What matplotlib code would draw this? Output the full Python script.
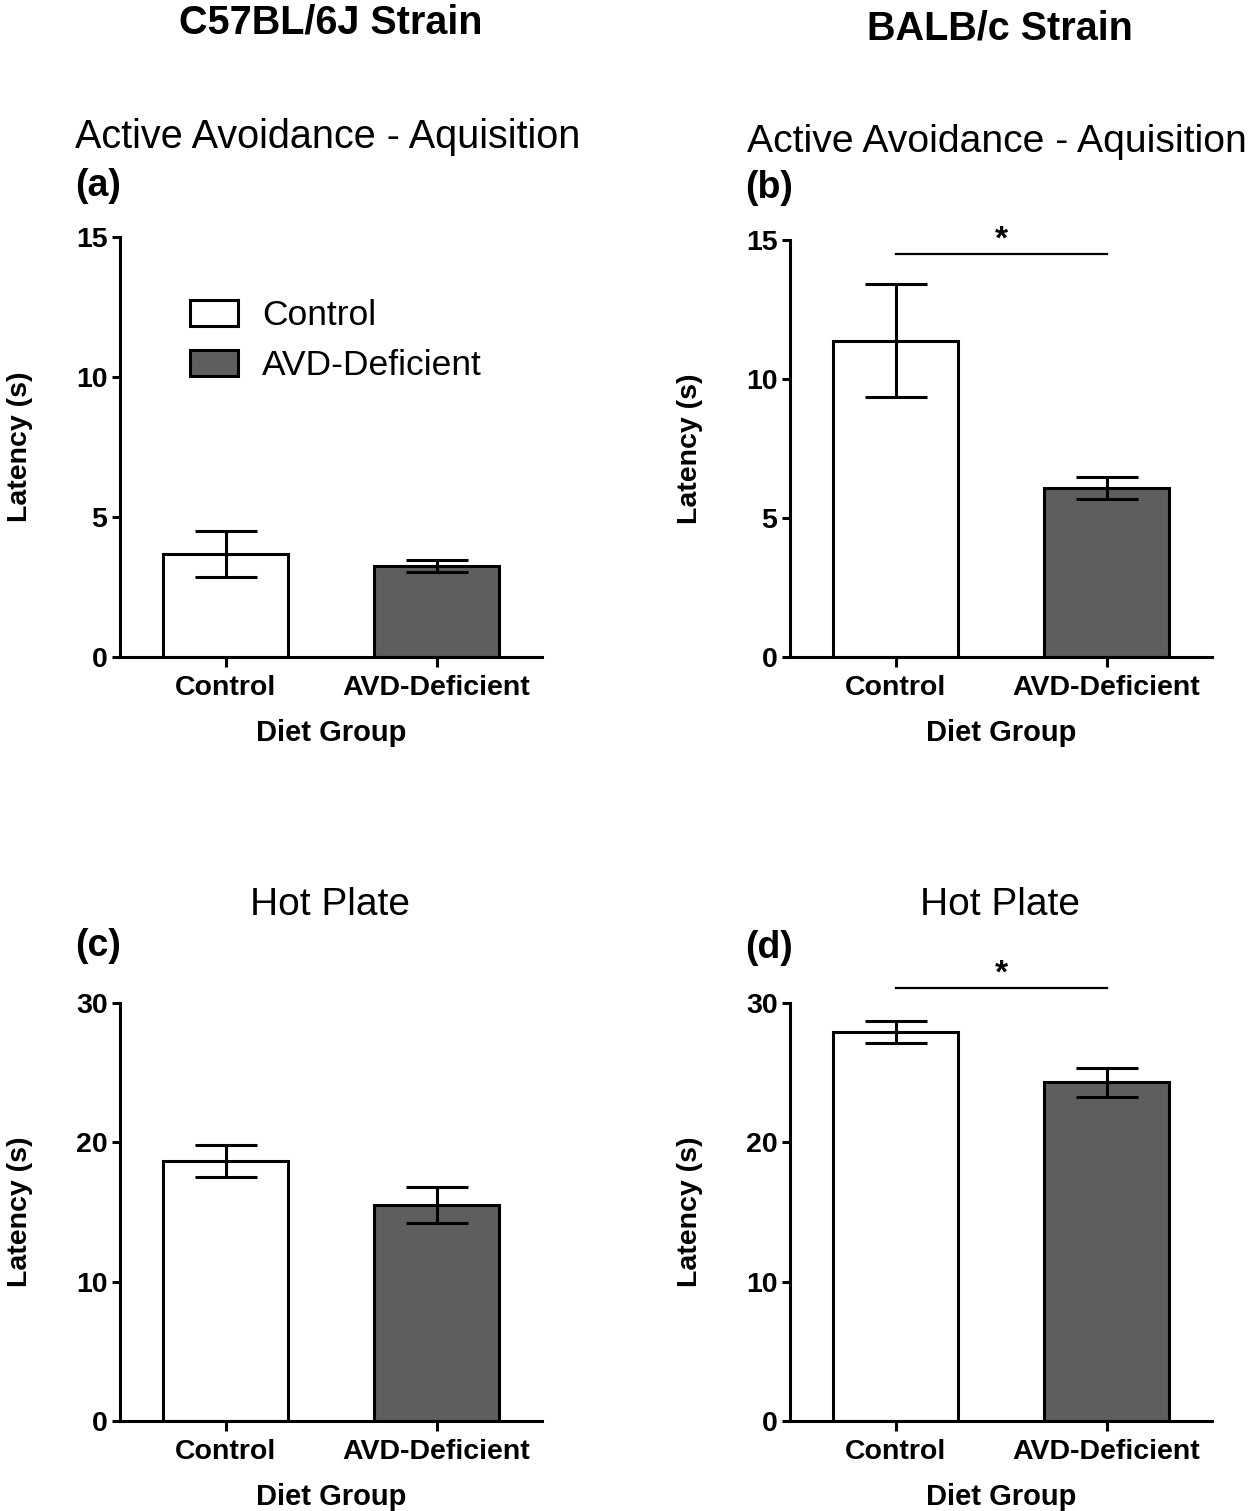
import matplotlib
matplotlib.use("Agg")
import matplotlib.pyplot as plt
from matplotlib.patches import Patch

plt.rcParams['font.family'] = ['Liberation Sans', 'DejaVu Sans']

# data (means and error bar ends)
groups = ["Control", "AVD-Deficient"]
colors = ["white", "#5e5e5e"]

aa_c57_mean = [3.67, 3.25]
aa_c57_err = [0.83, 0.22]
aa_balb_mean = [11.37, 6.08]
aa_balb_err = [2.03, 0.40]
hp_c57_mean = [18.66, 15.5]
hp_c57_err = [1.12, 1.3]
hp_balb_mean = [27.9, 24.3]
hp_balb_err = [0.8, 1.05]

panels = [
    # mean, err, ymax, ytick step, significance bar y
    (aa_c57_mean, aa_c57_err, 15, 5, None),
    (aa_balb_mean, aa_balb_err, 15, 5, 14.5),
    (hp_c57_mean, hp_c57_err, 30, 10, None),
    (hp_balb_mean, hp_balb_err, 30, 10, 31.1),
]

W, H = 1250, 1511
fig = plt.figure(figsize=(W / 100, H / 100), dpi=100)

# axes boxes in pixels: left, top, right, bottom
boxes = [
    (120, 237, 542, 657),
    (790, 240, 1212, 657),
    (120, 1003, 542, 1421),
    (790, 1003, 1212, 1421),
]

lw = 2.2
for i, (mean, err, ymax, step, sig) in enumerate(panels):
    l, t, r, b = boxes[i]
    ax = fig.add_axes([l / W, 1 - b / H, (r - l) / W, (b - t) / H])
    x = [0, 1]
    ax.bar(x, mean, width=0.59, color=colors, edgecolor="black", linewidth=lw, zorder=2)
    ax.errorbar(x, mean, yerr=err, fmt="none", ecolor="black", elinewidth=lw,
                capsize=22, capthick=lw, zorder=3)
    ax.set_xlim(-0.5, 1.5)
    ax.set_ylim(0, ymax)
    ax.set_yticks(range(0, ymax + 1, step))
    ax.set_xticks(x)
    ax.set_xticklabels(groups)
    for s in ["top", "right"]:
        ax.spines[s].set_visible(False)
    for s in ["left", "bottom"]:
        ax.spines[s].set_linewidth(lw)
    ax.tick_params(axis="x", width=lw, length=7, labelsize=20.5, pad=6)
    ax.tick_params(axis="y", width=lw, length=6, labelsize=20.5, pad=3)
    for lab in ax.get_xticklabels() + ax.get_yticklabels():
        lab.set_fontweight("bold")
    ax.set_ylabel("Latency (s)", fontsize=20.5, fontweight="bold")
    ax.yaxis.set_label_coords(-0.205, 0.5)
    ax.set_xlabel("Diet Group", fontsize=21, fontweight="bold")
    ax.xaxis.set_label_coords(0.5, -0.148)

    if sig is not None:
        ax.plot([0, 1], [sig, sig], color="black", linewidth=1.6, clip_on=False)
        ax.text(0.5, sig - ymax * 0.005, "*", ha="center", va="bottom",
                fontsize=24, fontweight="bold", clip_on=False)

    if i == 0:
        handles = [Patch(facecolor=c, edgecolor="black", linewidth=lw) for c in colors]
        ax.legend(handles, groups, loc="upper left", bbox_to_anchor=(0.166, 0.852),
                  frameon=False, fontsize=25.5, handlelength=1.35, handleheight=0.73,
                  handletextpad=0.68, labelspacing=0.48, borderpad=0, borderaxespad=0)

# panel titles and letters
fig.text(75 / W, 1 - 137 / H, "Active Avoidance - Aquisition", fontsize=28.5, va="center", ha="left")
fig.text(747 / W, 1 - 142 / H, "Active Avoidance - Aquisition", fontsize=28.2, va="center", ha="left")
fig.text(330 / W, 1 - 905 / H, "Hot Plate", fontsize=28, va="center", ha="center")
fig.text(1000 / W, 1 - 905 / H, "Hot Plate", fontsize=28, va="center", ha="center")
for letter, (px, py) in zip(["(a)", "(b)", "(c)", "(d)"],
                            [(75, 186), (745, 188), (75, 946), (745, 948)]):
    fig.text(px / W, 1 - py / H, letter, fontsize=27, fontweight="bold", va="center", ha="left")

# strain headers
fig.text(331 / W, 1 - 22 / H, "C57BL/6J Strain", fontsize=28.5, fontweight="bold", ha="center", va="center")
fig.text(1000 / W, 1 - 28 / H, "BALB/c Strain", fontsize=28.5, fontweight="bold", ha="center", va="center")

fig.savefig("out.png", dpi=100)
